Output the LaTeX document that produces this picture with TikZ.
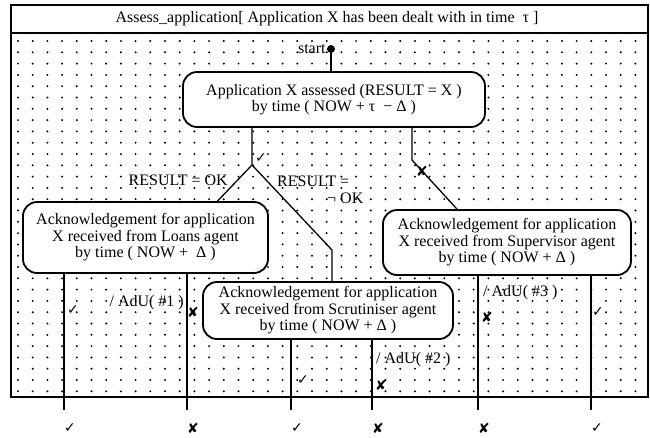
\documentclass[tikz,border=0pt]{standalone}
\usepackage{fontspec}
\setmainfont{Liberation Serif}
\newfontfamily\marksfont{DejaVu Sans}
\usetikzlibrary{positioning}

\begin{document}
\begin{tikzpicture}[
  x=1pt, y=-1pt,
  font=\fontsize{16}{16.5}\selectfont,
  goal/.style={
    draw,
    line width=1.8pt,
    rounded corners=14pt,
    fill=white,
    inner sep=0pt,
    align=center
  },
  link/.style={line width=1.3pt},
  tickmark/.style={font=\marksfont\fontsize{14}{14}\selectfont,inner sep=0pt},
  act/.style={inner sep=0pt}
]
  \useasboundingbox (0,0) rectangle (650,437);

  % dotted body of the frame
  \foreach \r in {0,...,31}
    \foreach \c in {0,...,42}
      \fill (18+\c*14.7,41+\r*11.3) circle[radius=1.1pt];

  \draw[line width=1.8pt] (11,5) rectangle (648,397);
  \draw[line width=1.8pt] (11,33) -- (648,33);
  \node (title) at (327,19)
    {Assess\_application[ Application X has been dealt with in time \ τ ]};

  \node[circle,fill,inner sep=0pt,minimum size=8pt] (startdot) at (331,49) {};
  \node[left=1pt of startdot,inner sep=0pt] (startlbl) {start};

  \node[goal,minimum width=302pt,minimum height=55pt] (assessed) at (334,99.5)
    {Application X assessed (RESULT = X )\\by time ( NOW + τ \ − Δ )};
  \node[goal,minimum width=245pt,minimum height=71pt] (loans) at (145.5,237.5)
    {Acknowledgement for application\\X received from Loans agent\\by time ( NOW + \ Δ )};
  \node[goal,minimum width=250pt,minimum height=57pt] (scrut) at (328,310.5)
    {Acknowledgement for application\\X received from Scrutiniser agent\\by time ( NOW + Δ )};
  \node[goal,minimum width=248pt,minimum height=65pt] (superv) at (507,242.5)
    {Acknowledgement for application\\X received from Supervisor agent\\by time ( NOW + Δ )};

  \draw[link] (startdot) -- (startdot |- assessed.north);

  % branches of the assessment
  \coordinate (okfork) at (252,165);
  \coordinate (okbend) at (332,250);
  \coordinate (failfork) at (412,160);
  \draw[link] (assessed.south -| okfork) -- (okfork) -- ([xshift=72pt]loans.north);
  \draw[link] (okfork) -- (okbend) -- (scrut.north -| okbend);
  \draw[link] (assessed.south -| failfork) -- (failfork) -- ([xshift=-50pt]superv.north);
  \node[tickmark] (okmark) at (261,158) {✓};
  \node[tickmark] (failmark) at (422,171) {✘};
  \node[act,anchor=east] (condok) at (228,180) {RESULT = OK};
  \node[act,anchor=west,align=left] (condnok) at (277,190)
    {RESULT =\\\hspace*{50pt}¬ OK};

  % outcomes
  \coordinate (o1) at (64,410);
  \coordinate (o2) at (187,410);
  \coordinate (o3) at (291,410);
  \coordinate (o4) at (372,410);
  \coordinate (o5) at (478,410);
  \coordinate (o6) at (591,410);
  \draw[link] (loans.south -| o1) -- (o1);
  \draw[link] (loans.south -| o2) -- (o2);
  \draw[link] (scrut.south -| o3) -- (o3);
  \draw[link] (scrut.south -| o4) -- (o4);
  \draw[link] (superv.south -| o5) -- (o5);
  \draw[link] (superv.south -| o6) -- (o6);

  \node[tickmark] (m1) at (73,310) {✓};
  \node[tickmark] (m2) at (193,312) {✘};
  \node[tickmark] (m3) at (303,380) {✓};
  \node[tickmark] (m4) at (381,385) {✘};
  \node[tickmark] (m5) at (487,317) {✘};
  \node[tickmark] (m6) at (598,312) {✓};

  \node[act,anchor=east] (adu1) at (184,303) {/ AdU( \#1 )};
  \node[act,anchor=west] (adu2) at (376,360) {/ AdU( \#2 )};
  \node[act,anchor=west] (adu3) at (483,293) {/ AdU( \#3 )};

  \foreach \o/\m in {o1/✓,o2/✘,o3/✓,o4/✘,o5/✘,o6/✓}
    \node[tickmark] at ([xshift=6pt,yshift=-18pt]\o) {\m};
\end{tikzpicture}
\end{document}
